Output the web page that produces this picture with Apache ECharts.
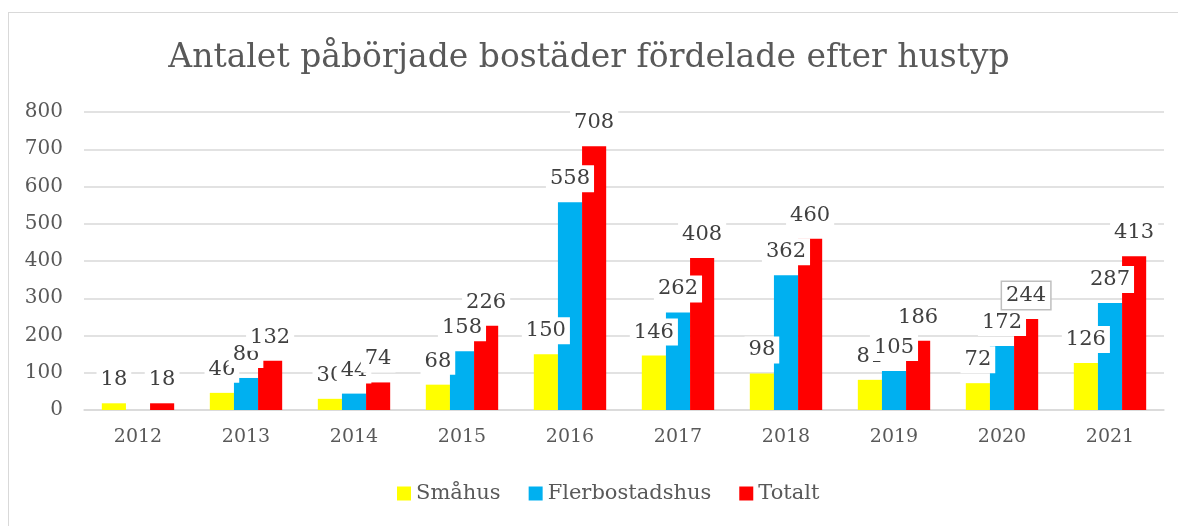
<!DOCTYPE html>
<html>
<head>
<meta charset="utf-8" />
<title>Antalet påbörjade bostäder</title>
<style>
	body { margin: 0; background: #fff; }
	#frame { position: absolute; left: 8px; top: 12px; width: 1200px; height: 540px; border-top: 1px solid #d9d9d9; border-left: 1px solid #d9d9d9; }
	#chart { position: absolute; left: 0; top: 0; width: 1178px; height: 526px; }
</style>
</head>
<body>
<div id="frame"></div>
<div id="chart"></div>
<script src="https://cdn.jsdelivr.net/npm/echarts@6/dist/echarts.min.js"></script>
<script>
	var years = ['2012', '2013', '2014', '2015', '2016', '2017', '2018', '2019', '2020', '2021'];
	var smahus = [18, 46, 30, 68, 150, 146, 98, 81, 72, 126];
	var flerbostadshus = [0, 86, 44, 158, 558, 262, 362, 105, 172, 287];
	var totalt = [18, 132, 74, 226, 708, 408, 460, 186, 244, 413];

	var font = 'DejaVu Serif';
	var myChart = echarts.init(document.getElementById('chart'));

	function labelStyle() {
		return {
			show: true,
			position: 'top',
			distance: 10,
			fontFamily: font,
			fontSize: 21,
			color: '#404040',
			backgroundColor: '#fff',
			padding: [3, 4],
			formatter: function (p) { return p.value ? p.value : ''; }
		};
	}

	// 2020 totalt label had a grey frame in the original
	var totaltData = totalt.map(function (v, i) {
		if (years[i] == '2020') {
			return { value: v, label: { borderColor: '#bfbfbf', borderWidth: 1.5 } };
		}
		return v;
	});

	var options = {
		animation: false,
		title: {
			text: 'Antalet påbörjade bostäder fördelade efter hustyp',
			left: 'center',
			top: 37,
			textStyle: { fontFamily: font, fontSize: 33, fontWeight: 'normal', color: '#595959' }
		},
		legend: {
			bottom: 17,
			left: 392,
			itemWidth: 14,
			itemHeight: 14,
			itemGap: 28,
			icon: 'rect',
			textStyle: { fontFamily: font, fontSize: 21, color: '#595959' },
			data: ['Småhus', 'Flerbostadshus', 'Totalt']
		},
		grid: { left: 84, right: 14, top: 112, bottom: 116 },
		xAxis: {
			type: 'category',
			data: years,
			axisLine: { lineStyle: { color: '#d9d9d9', width: 1.5 } },
			axisTick: { show: false },
			axisLabel: { fontFamily: font, fontSize: 19, color: '#595959', margin: 18 }
		},
		yAxis: {
			type: 'value',
			min: 0,
			max: 800,
			interval: 100,
			axisLine: { show: false },
			axisTick: { show: false },
			splitLine: { lineStyle: { color: '#d9d9d9', width: 1.5 } },
			axisLabel: { fontFamily: font, fontSize: 20, color: '#595959', margin: 21 }
		},
		series: [
			{ name: 'Småhus', type: 'bar', data: smahus, itemStyle: { color: '#ffff00' }, barGap: '0%', barCategoryGap: '33%', label: labelStyle() },
			{ name: 'Flerbostadshus', type: 'bar', data: flerbostadshus, itemStyle: { color: '#00b0f0' }, label: labelStyle() },
			{ name: 'Totalt', type: 'bar', data: totaltData, itemStyle: { color: '#ff0000' }, label: labelStyle() }
		]
	};
	myChart.setOption(options);
</script>
</body>
</html>
